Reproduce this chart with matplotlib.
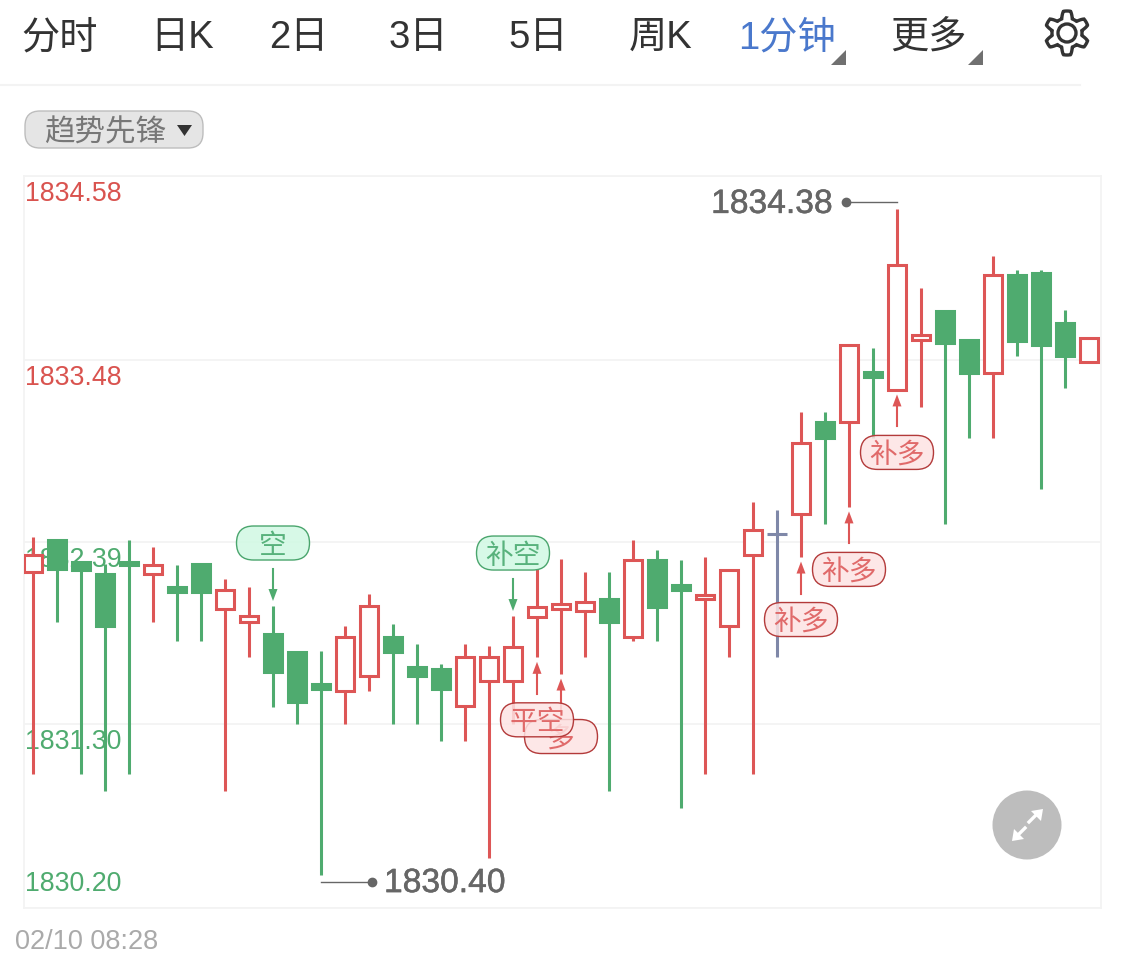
import numpy as np
import matplotlib
matplotlib.use("Agg")
import matplotlib.pyplot as plt
import matplotlib.patheffects as pe
from matplotlib.patches import Rectangle, FancyBboxPatch, Polygon, Circle

plt.rcParams['font.family'] = ['Liberation Sans', 'Noto Sans CJK SC', 'DejaVu Sans']

# dati delle candele
opens = [1832.21, 1832.40, 1832.27, 1832.20, 1832.27, 1832.20, 1832.12, 1832.26, 1831.99, 1831.91,
         1831.84, 1831.73, 1831.54, 1831.50, 1831.59, 1831.82, 1831.64, 1831.63, 1831.41, 1831.56,
         1831.56, 1831.94, 1831.99, 1831.98, 1832.05, 1831.82, 1832.28, 1832.13, 1832.05, 1831.89,
         1832.31, 1832.44, 1832.56, 1833.11, 1833.11, 1833.41, 1833.30, 1833.60, 1833.77, 1833.60,
         1833.40, 1833.99, 1834.00, 1833.70, 1833.47]
closes = [1832.31, 1832.23, 1832.22, 1831.89, 1832.25, 1832.25, 1832.09, 1832.09, 1832.10, 1831.95,
          1831.61, 1831.43, 1831.51, 1831.82, 1832.01, 1831.73, 1831.59, 1831.51, 1831.70, 1831.70,
          1831.76, 1832.00, 1832.02, 1832.03, 1831.91, 1832.28, 1832.00, 1832.10, 1832.07, 1832.22,
          1832.46, 1832.44, 1832.98, 1833.01, 1833.57, 1833.38, 1834.05, 1833.63, 1833.58, 1833.40,
          1833.99, 1833.59, 1833.57, 1833.50, 1833.61]
highs = [1832.42, 1832.40, 1832.27, 1832.26, 1832.40, 1832.36, 1832.25, 1832.26, 1832.17, 1832.12,
         1832.01, 1831.73, 1831.74, 1831.89, 1832.08, 1831.90, 1831.78, 1831.66, 1831.78, 1831.77,
         1831.95, 1832.23, 1832.29, 1832.21, 1832.21, 1832.40, 1832.34, 1832.28, 1832.30, 1832.22,
         1832.63, 1832.58, 1833.17, 1833.17, 1833.57, 1833.55, 1834.38, 1833.91, 1833.77, 1833.60,
         1834.10, 1834.02, 1834.02, 1833.78, 1833.61]
lows = [1831.00, 1831.91, 1831.00, 1830.90, 1831.00, 1831.91, 1831.80, 1831.80, 1830.90, 1831.70,
        1831.40, 1831.30, 1830.40, 1831.30, 1831.50, 1831.30, 1831.30, 1831.20, 1831.20, 1830.50,
        1831.30, 1831.70, 1831.60, 1831.70, 1830.90, 1831.80, 1831.80, 1830.80, 1831.00, 1831.70,
        1831.00, 1831.70, 1832.30, 1832.50, 1832.60, 1833.01, 1833.30, 1833.20, 1832.50, 1833.01,
        1833.01, 1833.50, 1832.71, 1833.31, 1833.46]

price_ticks = [1834.58, 1833.48, 1832.39, 1831.30, 1830.20]
tick_colors = ['#d9534f', '#d9534f', '#4fab6f', '#4fab6f', '#4fab6f']

tabs = ['分时', '日K', '2日', '3日', '5日', '周K', '1分钟', '更多']
tab_x = [60, 182, 299, 418, 538, 661, 787, 928]

# segnali: indice candela, testo, sopra (True) o sotto (False)
sig_idx = [10, 20, 22, 21, 32, 34, 36]
sig_text = ['空', '补空', '多', '平空', '补多', '补多', '补多']
sig_above = [True, True, False, False, False, False, False]

RED = '#dd5656'
GREEN = '#4fab6f'
GREY = '#7f88a8'

fig = plt.figure(figsize=(11.25, 9.57), dpi=100, facecolor='white')
W, H = 1125, 957

# assi del grafico, posizionati in pixel
ax = fig.add_axes([24 / W, 1 - 908 / H, (1101 - 24) / W, (908 - 176) / H], zorder=1)
ax.set_xlim(-0.375, 44.5)
ax.set_ylim(1830.20, 1834.58)
ax.set_xticks([])
ax.set_yticks([])
for s in ax.spines.values():
    s.set_color('#f3f3f3')
    s.set_linewidth(1.3)

for p, col in zip(price_ticks, tick_colors):
    ax.axhline(p, color='#f3f3f3', lw=1.3, zorder=1)
    off = 17 if p == price_ticks[-1] else -13
    ax.annotate(f"{p:.2f}", (0, p), xycoords=('axes fraction', 'data'), xytext=(1, off),
                textcoords='offset points', fontsize=19.3, color=col, va='center', ha='left', zorder=2)

# candele
body_w = 18 / 24
for i, (o, c, h, l) in enumerate(zip(opens, closes, highs, lows)):
    top, bot = max(o, c), min(o, c)
    if o == c:
        col = GREY
    elif c > o:
        col = RED
    else:
        col = GREEN
    if col == RED:
        ax.vlines(i, top, h, color=col, lw=2.2, zorder=3)
        ax.vlines(i, l, bot, color=col, lw=2.2, zorder=3)
        ax.add_patch(Rectangle((i - body_w / 2, bot), body_w, top - bot, facecolor='white',
                               edgecolor=col, lw=2.2, zorder=4))
    elif col == GREEN:
        ax.vlines(i, l, h, color=col, lw=2.2, zorder=3)
        ax.add_patch(Rectangle((i - body_w / 2, bot), body_w, top - bot, facecolor=col,
                               edgecolor=col, lw=2.2, zorder=4))
    else:
        ax.vlines(i, l, h, color=col, lw=2.2, zorder=3)
        ax.hlines(o, i - 0.42, i + 0.42, color=col, lw=2.2, zorder=4)

# overlay in pixel per tutto il resto
ov = fig.add_axes([0, 0, 1, 1], zorder=2)
ov.set_xlim(0, W)
ov.set_ylim(H, 0)
ov.axis('off')
ov.patch.set_alpha(0)


def to_px(i, price):
    xy = ax.transData.transform((i, price))
    return ov.transData.inverted().transform(xy)


# barra superiore
for t, x in zip(tabs, tab_x):
    col = '#4a78cc' if t == '1分钟' else '#333333'
    ov.text(x, 38, t, fontsize=27.5, color=col, ha='center', va='center')
for x in [846, 983]:
    ov.add_patch(Polygon([[x - 15, 65], [x, 65], [x, 50]], closed=True, color='#707070', lw=0))
ov.plot([0, 1080], [85, 85], color='#f3f3f3', lw=1.5)

# ingranaggio
th = np.linspace(0, 2 * np.pi, 360)
r = 18.5 + 3.5 * np.clip(1.8 * np.cos(6 * th), -1, 1)
ov.add_patch(Polygon(np.c_[1067 + r * np.sin(th), 33 + r * np.cos(th)], closed=True, fill=False,
                     edgecolor='#333333', lw=2.4))
ov.add_patch(Circle((1067, 33), 9, fill=False, edgecolor='#333333', lw=2.4))

# selettore
ov.add_patch(FancyBboxPatch((25, 111), 178, 37, boxstyle='round,pad=0,rounding_size=15',
                            facecolor='#e5e5e5', edgecolor='#bdbdbd', lw=1))
ov.text(105, 133, '趋势先锋', fontsize=22, color='#777777', ha='center', va='center')
ov.add_patch(Polygon([[177, 125], [192, 125], [184.5, 136]], closed=True, color='#333333', lw=0))

# segnali
for i, t, above in zip(sig_idx, sig_text, sig_above):
    if above:
        x, y = to_px(i, highs[i])
        tip, tail, cy = y - 4.5, y - 36.5, y - 62.5
        col, face, edge = GREEN, '#d0f9e3', '#4aa56d'
    else:
        x, y = to_px(i, lows[i])
        tip, tail, cy = y + 4.5, y + 36.5, y + 62.5
        col, face, edge = RED, '#fde3e3', '#b33a3a'
    sign = 1 if above else -1
    ov.plot([x, x], [tail, tip - sign * 9], color=col, lw=1.5, zorder=5)
    ov.add_patch(Polygon([[x - 4.5, tip - sign * 12], [x + 4.5, tip - sign * 12], [x, tip]], closed=True,
                         color=col, lw=0, zorder=5))
    box = FancyBboxPatch((x - 36.5, cy - 17), 73, 34, boxstyle='round,pad=0,rounding_size=17',
                         facecolor=matplotlib.colors.to_rgba(face, 0.85), edgecolor=edge, lw=1, zorder=6)
    ov.add_patch(box)
    ov.text(x, cy + 3.5, t, fontsize=20, color='#e06a6a' if not above else '#58b27c', ha='center',
            va='center', zorder=6)

# etichette massimo e minimo
hi = int(np.argmax(highs))
lo = int(np.argmin(lows))
xh, yh = to_px(hi, highs[hi])
xl, yl = to_px(lo, lows[lo])
bold = [pe.withStroke(linewidth=0.35, foreground='#666666')]
ov.plot([xh, xh - 51], [yh - 7, yh - 7], color='#666666', lw=1, zorder=7)
ov.plot([xh - 51], [yh - 7], 'o', color='#666666', ms=6, zorder=7)
ov.text(xh - 64, yh - 5, f"{highs[hi]:.2f}", fontsize=24.2, color='#666666', ha='right', va='center',
        zorder=7, path_effects=bold)
ov.plot([xl, xl + 51], [yl + 7, yl + 7], color='#666666', lw=1, zorder=7)
ov.plot([xl + 51], [yl + 7], 'o', color='#666666', ms=6, zorder=7)
ov.text(xl + 63, yl + 9, f"{lows[lo]:.2f}", fontsize=24.2, color='#666666', ha='left', va='center',
        zorder=7, path_effects=bold)

# pulsante espandi
ov.add_patch(Circle((1027, 825), 34.5, color='#bdbdbd', lw=0, zorder=7))
ov.plot([1018, 1025], [835, 828], color='white', lw=2.4, zorder=8)
ov.plot([1029, 1036], [822, 815], color='white', lw=2.4, zorder=8)
ov.add_patch(Polygon([[1012, 841], [1014, 829], [1024, 839]], closed=True, color='white', lw=0, zorder=8))
ov.add_patch(Polygon([[1043, 809], [1041, 821], [1031, 811]], closed=True, color='white', lw=0, zorder=8))

ov.text(15, 942, '02/10 08:28', fontsize=19.5, color='#aaaaaa', ha='left', va='center')

fig.savefig('out.png', dpi=100)
